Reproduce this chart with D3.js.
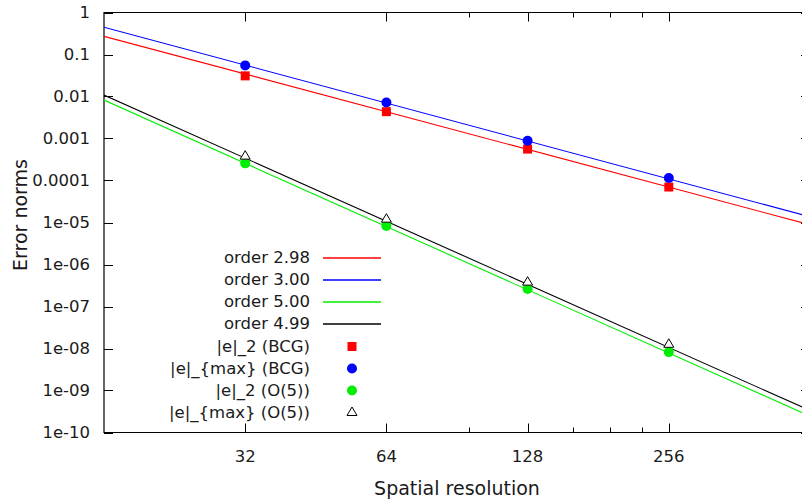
<!DOCTYPE html>
<html><head><meta charset="utf-8">
<script src="https://cdn.jsdelivr.net/npm/d3@7"></script>
<style>body{margin:0;background:#fff}svg{display:block}text{font-family:"DejaVu Sans",sans-serif;fill:#1a1a1a}</style>
</head><body>
<svg id="c" width="802" height="502"></svg>
<script>
const resolution = [32, 64, 128, 256];
const e2BCG   = [0.031, 0.00435, 0.00056, 0.00007];
const emaxBCG = [0.055, 0.0072, 0.00088, 0.000115];
const e2O5    = [0.000256, 0.0000083, 0.00000026, 0.0000000082];
const emaxO5  = [0.00038, 0.000012, 0.00000038, 0.0000000126];
const fitOrders = [2.98, 3.00, 5.00, 4.99];
const fitAt16   = [0.27, 0.447, 0.0082, 0.0108];
const fitLabels = ["order 2.98", "order 3.00", "order 5.00", "order 4.99"];
const fitColors = ["#ff0000", "#0000ff", "#00ee00", "#000000"];
const xTicks = [32, 64, 128, 256];
const xMinorTicks = [96, 160, 192, 224];
const yTicks = [1, 0.1, 0.01, 0.001, 0.0001, 1e-5, 1e-6, 1e-7, 1e-8, 1e-9, 1e-10];
const yTickLabels = ["1","0.1","0.01","0.001","0.0001","1e-05","1e-06","1e-07","1e-08","1e-09","1e-10"];
const pointLabels = ["|e|_2 (BCG)", "|e|_{max} (BCG)", "|e|_2 (O(5))", "|e|_{max} (O(5))"];

const svg = d3.select("#c");
const L = 104, T = 12.5, R = 810, B = 432.5;
const FS = 16.5, TFS = 19;
const x = d3.scaleLog().base(2).domain([16, 512]).range([L, R]);
const y = d3.scaleLog().domain([1e-10, 1]).range([B, T]);

svg.append("defs").append("clipPath").attr("id","pc")
  .append("rect").attr("x", L).attr("y", T).attr("width", R - L).attr("height", B - T);

// border
svg.append("path").attr("d", `M${R},${T}H${L}V${B}H${R}`).attr("fill","none").attr("stroke","#000").attr("stroke-width",1.2);

// y ticks
yTicks.forEach((v,i) => {
  const yy = Math.round(y(v)) + 0.5;
  svg.append("line").attr("x1", L).attr("x2", L + 9).attr("y1", yy).attr("y2", yy).attr("stroke","#000");
  svg.append("line").attr("x1", R - 9).attr("x2", R).attr("y1", yy).attr("y2", yy).attr("stroke","#000");
  svg.append("text").attr("x", L - 14).attr("y", y(v)).attr("dy","0.35em").attr("text-anchor","end")
    .attr("font-size", FS).text(yTickLabels[i]);
});
// x ticks
xTicks.forEach(v => {
  const xx = Math.round(x(v)) + 0.5;
  svg.append("line").attr("x1", xx).attr("x2", xx).attr("y1", B).attr("y2", B - 9).attr("stroke","#000");
  svg.append("line").attr("x1", xx).attr("x2", xx).attr("y1", T).attr("y2", T + 9).attr("stroke","#000");
  svg.append("text").attr("x", x(v)).attr("y", B + 24).attr("dy","0.35em").attr("text-anchor","middle")
    .attr("font-size", FS).text(v);
});
xMinorTicks.forEach(v => {
  const xx = Math.round(x(v)) + 0.5;
  svg.append("line").attr("x1", xx).attr("x2", xx).attr("y1", B).attr("y2", B - 5).attr("stroke","#000");
  svg.append("line").attr("x1", xx).attr("x2", xx).attr("y1", T).attr("y2", T + 5).attr("stroke","#000");
});

// axis titles
svg.append("text").attr("x", 457).attr("y", 488).attr("dy","0.35em").attr("text-anchor","middle")
  .attr("font-size", TFS).text("Spatial resolution");
svg.append("text").attr("transform","translate(20,215) rotate(-90)").attr("dy","0.35em").attr("text-anchor","middle")
  .attr("font-size", TFS).text("Error norms");

// fit lines
const g = svg.append("g").attr("clip-path","url(#pc)");
const dom = x.domain();
fitOrders.forEach((p,i) => {
  const pts = dom.map(n => [x(n), y(fitAt16[i] * Math.pow(n / 16, -p))]);
  g.append("path").attr("d", d3.line()(pts)).attr("fill","none").attr("stroke", fitColors[i]).attr("stroke-width",1.1);
});

// markers
function square(sel, cx, cy){ sel.append("rect").attr("x", cx-4.5).attr("y", cy-4.5).attr("width",9).attr("height",9).attr("fill","#ff0000"); }
function circ(color){ return (sel,cx,cy)=> sel.append("circle").attr("cx",cx).attr("cy",cy).attr("r",5).attr("fill",color); }
function tri(sel,cx,cy){ sel.append("path").attr("d",`M${cx},${cy-5.5}L${cx+5},${cy+3}L${cx-5},${cy+3}Z`).attr("fill","#fff").attr("stroke","#000").attr("stroke-width",1); }
const series = [e2BCG, emaxBCG, e2O5, emaxO5];
const drawers = [square, circ("#0000ff"), circ("#00ee00"), tri];
series.forEach((s,i) => s.forEach((v,j) => drawers[i](g, x(resolution[j]), y(v))));

// legend
const legY0 = 257.5, step = 22;
fitLabels.forEach((t,i) => {
  const yy = legY0 + i*step;
  svg.append("text").attr("x", 310).attr("y", yy).attr("dy","0.35em").attr("text-anchor","end").attr("font-size",FS).text(t);
  svg.append("line").attr("x1",323).attr("x2",381).attr("y1",Math.round(yy)).attr("y2",Math.round(yy))
    .attr("stroke",fitColors[i]).attr("stroke-width",1.4);
});
pointLabels.forEach((t,i) => {
  const yy = legY0 + (i+4)*step + 1;
  svg.append("text").attr("x", 310).attr("y", yy).attr("dy","0.35em").attr("text-anchor","end").attr("font-size",FS).text(t);
  drawers[i](svg, 352, yy);
});
</script>
</body></html>
